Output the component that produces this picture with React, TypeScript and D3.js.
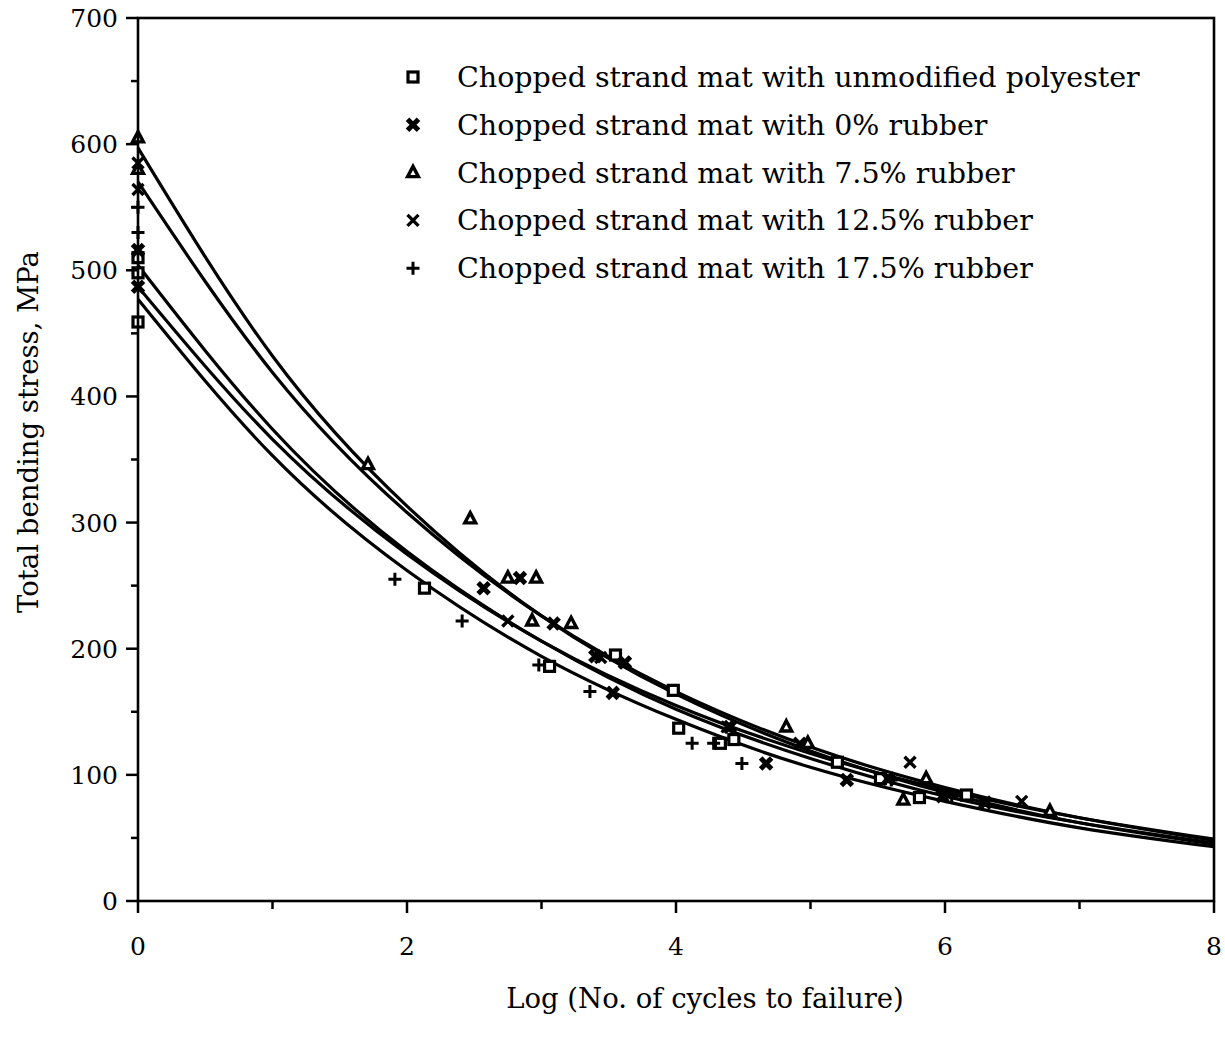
import React from "react";
import * as d3 from "d3";

const W = 1225;
const H = 1041;

// axes
const xDomain = [0, 8];
const yDomain = [0, 700];
const xTickValues = [0, 1, 2, 3, 4, 5, 6, 7, 8];
const xTickLabelValues = [0, 2, 4, 6, 8];
const yTickValues = [0, 50, 100, 150, 200, 250, 300, 350, 400, 450, 500, 550, 600, 650, 700];
const yTickLabelValues = [0, 100, 200, 300, 400, 500, 600, 700];

const xTitle = "Log (No. of cycles to failure)";
const yTitle = "Total bending stress, MPa";

const seriesNames = [
  "Chopped strand mat with unmodified polyester",
  "Chopped strand mat with 0% rubber",
  "Chopped strand mat with 7.5% rubber",
  "Chopped strand mat with 12.5% rubber",
  "Chopped strand mat with 17.5% rubber",
];
const seriesSymbols = ["square", "boldx", "triangle", "x", "plus"];

// scatter data (log cycles, MPa)
const polyX = [0, 0, 0, 2.13, 3.06, 3.55, 3.98, 4.02, 4.33, 4.43, 5.2, 5.52, 5.81, 6.16];
const polyY = [459, 498, 510, 248, 186, 195, 167, 137, 125, 128, 110, 97, 82, 84];

const r0X = [0, 0, 2.57, 2.84, 3.09, 3.4, 3.53, 3.62, 4.4, 4.67, 5.27, 5.58, 5.98, 6.3];
const r0Y = [487, 516, 248, 256, 220, 194, 165, 189, 138, 109, 96, 97, 83, 78];

const r75X = [0, 0, 1.71, 2.47, 2.75, 2.96, 2.93, 3.22, 4.82, 4.98, 5.69, 5.86, 6.78];
const r75Y = [605, 580, 346, 303, 256, 256, 222, 220, 138, 125, 80, 97, 71];

const r125X = [0, 0, 2.75, 3.44, 3.62, 4.92, 5.74, 6.57, 4.38];
const r125Y = [585, 564, 222, 193, 189, 125, 110, 79, 138];

const r175X = [0, 0, 1.91, 2.41, 2.98, 3.36, 4.12, 4.28, 4.49, 5.6, 6.05];
const r175Y = [530, 550, 255, 222, 187, 166, 125, 125, 109, 96, 83];

const seriesX = [polyX, r0X, r75X, r125X, r175X];
const seriesY = [polyY, r0Y, r75Y, r125Y, r175Y];

// fitted curves read at integer log-cycle positions
const curveX = [0, 1, 2, 3, 4, 5, 6, 7, 8];
const curvePolyY = [504, 374, 277, 206, 152, 113, 83, 62, 46];
const curveR0Y = [487, 366, 275, 206, 155, 117, 88, 66, 49];
const curveR75Y = [597, 432, 313, 226, 164, 119, 86, 62, 45];
const curveR125Y = [570, 419, 308, 226, 166, 122, 90, 66, 48];
const curveR175Y = [477, 353, 262, 194, 144, 106, 79, 58, 43];
const curvesY = [curvePolyY, curveR0Y, curveR75Y, curveR125Y, curveR175Y];

const FONT = "'DejaVu Serif', serif";

function Marker({ type, cx, cy }: { type: string; cx: number; cy: number }) {
  if (type === "square") {
    return <rect x={cx - 5} y={cy - 5} width={10} height={10} fill="#fff" stroke="#000" strokeWidth={3.2} />;
  }
  if (type === "boldx") {
    const s = 5.5;
    return (
      <path
        d={`M${cx - s},${cy - s}L${cx + s},${cy + s}M${cx - s},${cy + s}L${cx + s},${cy - s}`}
        stroke="#000"
        strokeWidth={5}
        strokeLinecap="butt"
      />
    );
  }
  if (type === "triangle") {
    const s = 5.4;
    return (
      <path
        d={`M${cx},${cy - s - 0.8}L${cx + s},${cy + s * 0.75}L${cx - s},${cy + s * 0.75}Z`}
        fill="#fff"
        stroke="#000"
        strokeWidth={3.4}
        strokeLinejoin="miter"
      />
    );
  }
  if (type === "x") {
    const s = 5.5;
    return (
      <path
        d={`M${cx - s},${cy - s}L${cx + s},${cy + s}M${cx - s},${cy + s}L${cx + s},${cy - s}`}
        stroke="#000"
        strokeWidth={3.4}
      />
    );
  }
  const s = 6.5;
  return (
    <path d={`M${cx - s},${cy}L${cx + s},${cy}M${cx},${cy - s}L${cx},${cy + s}`} stroke="#000" strokeWidth={3} />
  );
}

export default function App() {
  const left = 138;
  const right = 1214;
  const top = 18;
  const bottom = 901;
  const x = d3.scaleLinear().domain(xDomain).range([left, right]);
  const y = d3.scaleLinear().domain(yDomain).range([bottom, top]);

  const line = d3
    .line<[number, number]>()
    .x((d) => x(d[0]))
    .y((d) => y(d[1]))
    .curve(d3.curveNatural);

  const legendX = 413;
  const legendY0 = 77;
  const legendDy = 47.8;

  return (
    <svg
      width={W}
      height={H}
      viewBox={`0 0 ${W} ${H}`}
      style={{ position: "absolute", left: 0, top: 0, background: "#fff" }}
    >
      <rect x={0} y={0} width={W} height={H} fill="#fff" />
      {/* fitted curves */}
      {curvesY.map((ys, i) => (
        <path
          key={"c" + i}
          d={line(curveX.map((xv, j) => [xv, ys[j]] as [number, number])) || ""}
          fill="none"
          stroke="#000"
          strokeWidth={3.2}
        />
      ))}
      {/* points */}
      {seriesX.map((xs, i) =>
        xs.map((xv, j) => (
          <Marker key={`p${i}-${j}`} type={seriesSymbols[i]} cx={x(xv)} cy={y(seriesY[i][j])} />
        ))
      )}
      {/* frame */}
      <rect x={left} y={top} width={right - left} height={bottom - top} fill="none" stroke="#000" strokeWidth={2.6} />
      {/* x ticks */}
      {xTickValues.map((v) => (
        <line
          key={"xt" + v}
          x1={x(v)}
          x2={x(v)}
          y1={bottom}
          y2={bottom + (v % 2 === 0 ? 12 : 8)}
          stroke="#000"
          strokeWidth={2.5}
        />
      ))}
      {xTickLabelValues.map((v) => (
        <text key={"xl" + v} x={x(v)} y={955} textAnchor="middle" fontFamily={FONT} fontSize={25}>
          {String(v)}
        </text>
      ))}
      {/* y ticks */}
      {yTickValues.map((v) => (
        <line
          key={"yt" + v}
          x1={left}
          x2={left - (v % 100 === 0 ? 12 : 7)}
          y1={y(v)}
          y2={y(v)}
          stroke="#000"
          strokeWidth={2.5}
        />
      ))}
      {yTickLabelValues.map((v) => (
        <text key={"yl" + v} x={118} y={y(v) + 9} textAnchor="end" fontFamily={FONT} fontSize={25}>
          {String(v)}
        </text>
      ))}
      {/* titles */}
      <text x={(left + right) / 2 + 29} y={1008} textAnchor="middle" fontFamily={FONT} fontSize={27.5}>
        {xTitle}
      </text>
      <text
        transform={`translate(38, ${432}) rotate(-90)`}
        textAnchor="middle"
        fontFamily={FONT}
        fontSize={27.5}
      >
        {yTitle}
      </text>
      {/* legend */}
      {seriesNames.map((name, i) => (
        <g key={"lg" + i}>
          <Marker type={seriesSymbols[i]} cx={legendX} cy={legendY0 + i * legendDy} />
          <text x={457} y={legendY0 + i * legendDy + 10} fontFamily={FONT} fontSize={28.5}>
            {name}
          </text>
        </g>
      ))}
    </svg>
  );
}
